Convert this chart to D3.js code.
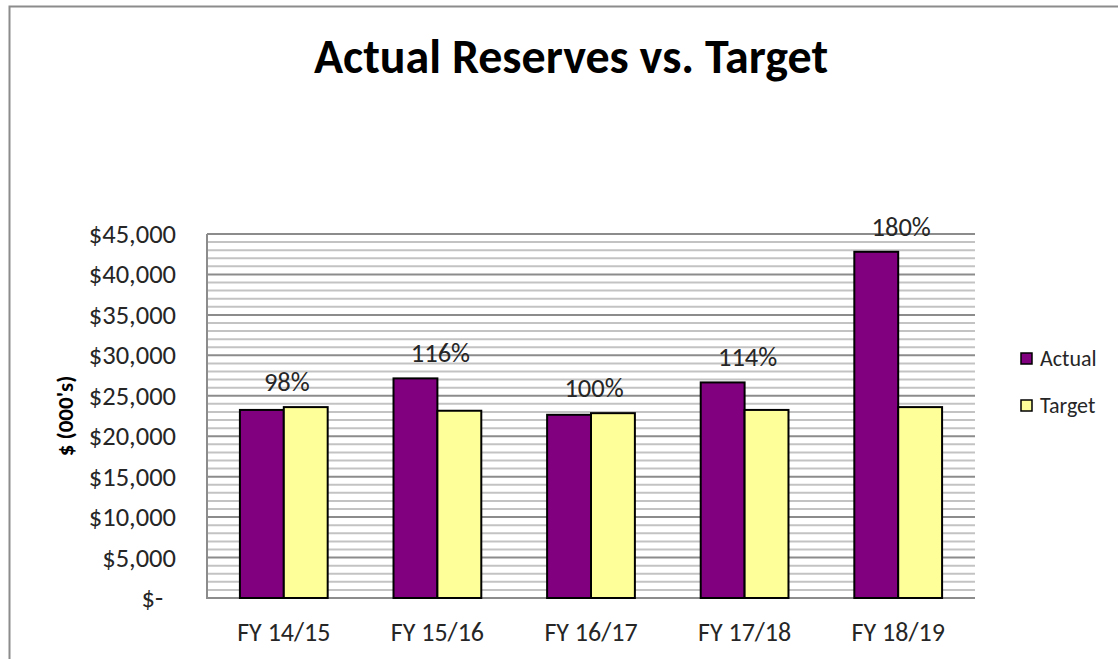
<!DOCTYPE html>
<html lang="en">
<head>
    <meta charset="UTF-8">
    <script src="https://d3js.org/d3.v7.min.js"></script>
    <title>Actual Reserves vs. Target</title>
    <style>
        body { margin: 0; background: #fff; }
        text { font-family: Carlito, Calibri, Lato, "Open Sans", sans-serif; fill: #262626; }
    </style>
</head>
<body>
<div id="chart"></div>
<script>
    // values in $ (000's)
    const years = ["FY 14/15", "FY 15/16", "FY 16/17", "FY 17/18", "FY 18/19"]
    const actual = [23250, 27150, 22650, 26650, 42800]
    const target = [23600, 23150, 22850, 23250, 23600]
    const pctLabels = ["98%", "116%", "100%", "114%", "180%"]
    const seriesNames = ["Actual", "Target"]
    const seriesColors = ["#800080", "#FFFF99"]
    const yTicks = [0, 5000, 10000, 15000, 20000, 25000, 30000, 35000, 40000, 45000]

    const W = 1118, H = 659
    const plotLeft = 207, plotRight = 975, plotTop = 234, plotBottom = 598

    const svg = d3.select("#chart").append("svg")
        .attr("width", W)
        .attr("height", H)

    // outer chart border (only top/left visible in the crop)
    svg.append("rect")
        .attr("x", 9.5).attr("y", 6.5)
        .attr("width", W + 20).attr("height", H + 20)
        .attr("fill", "none")
        .attr("stroke", "#8c8c8c")
        .attr("stroke-width", 2)

    svg.append("text")
        .attr("x", 571)
        .attr("y", 73)
        .attr("text-anchor", "middle")
        .attr("font-size", 48)
        .attr("font-weight", "bold")
        .style("fill", "#000")
        .text("Actual Reserves vs. Target")

    let y = d3.scaleLinear().domain([0, 45000]).range([plotBottom, plotTop])
    let x0 = d3.scaleBand().domain(years).range([plotLeft, plotRight])
    let x1 = d3.scaleBand().domain(seriesNames).range([0, x0.bandwidth()])
        .paddingInner(0).paddingOuter(0.75)

    // minor gridlines every 1000
    svg.append("g").selectAll("line")
        .data(d3.range(1000, 45001, 1000).filter(v => v % 5000 !== 0))
        .join("line")
        .attr("x1", plotLeft).attr("x2", plotRight)
        .attr("y1", d => y(d)).attr("y2", d => y(d))
        .attr("stroke", "#c3c3c3")
        .attr("stroke-width", 2)

    // major gridlines
    svg.append("g").selectAll("line")
        .data(yTicks.filter(v => v > 0))
        .join("line")
        .attr("x1", plotLeft).attr("x2", plotRight)
        .attr("y1", d => y(d)).attr("y2", d => y(d))
        .attr("stroke", "#8c8c8c")
        .attr("stroke-width", 2)

    // axes lines
    svg.append("line")
        .attr("x1", plotLeft).attr("x2", plotLeft)
        .attr("y1", plotTop).attr("y2", plotBottom + 1)
        .attr("stroke", "#8c8c8c").attr("stroke-width", 2)
    svg.append("line")
        .attr("x1", plotLeft - 1).attr("x2", plotRight)
        .attr("y1", plotBottom).attr("y2", plotBottom)
        .attr("stroke", "#8c8c8c").attr("stroke-width", 2)

    // y axis labels
    let yAxis = d3.axisLeft(y)
        .tickValues(yTicks)
        .tickSize(0)
        .tickPadding(31)
        .tickFormat(d => d === 0 ? "$-" : "$" + d3.format(",")(d))
    let ya = svg.append("g")
        .attr("transform", `translate(${plotLeft},0)`)
        .call(yAxis)
    ya.select(".domain").remove()
    ya.selectAll("text")
        .attr("font-size", 26.5)
        .attr("font-family", null)
        .attr("dx", d => d === 0 ? -13 : 0)

    // x axis labels
    let xAxis = d3.axisBottom(x0).tickSize(0).tickPadding(25)
    let xa = svg.append("g")
        .attr("transform", `translate(0,${plotBottom})`)
        .call(xAxis)
    xa.select(".domain").remove()
    xa.selectAll("text")
        .attr("font-size", 26)
        .attr("font-family", null)

    svg.append("text")
        .attr("transform", `translate(73,${(plotTop + plotBottom) / 2}) rotate(-90)`)
        .attr("text-anchor", "middle")
        .attr("font-size", 23)
        .attr("font-weight", "bold")
        .style("fill", "#000")
        .text("$ (000's)")

    // bars
    let rows = years.map((yr, i) => ({year: yr, values: [actual[i], target[i]]}))
    let groups = svg.append("g").selectAll("g")
        .data(rows)
        .join("g")
        .attr("transform", d => `translate(${x0(d.year)},0)`)
    groups.selectAll("rect")
        .data(d => d.values.map((v, k) => ({name: seriesNames[k], value: v, color: seriesColors[k]})))
        .join("rect")
        .attr("x", d => x1(d.name))
        .attr("width", x1.bandwidth())
        .attr("y", d => y(d.value))
        .attr("height", d => y(0) - y(d.value))
        .attr("fill", d => d.color)
        .attr("stroke", "#000")
        .attr("stroke-width", 2)

    // percentage labels
    svg.append("g").selectAll("text")
        .data(rows)
        .join("text")
        .attr("x", d => x0(d.year) + x0.bandwidth() / 2 + 3)
        .attr("y", d => y(d3.max(d.values)) - 16)
        .attr("text-anchor", "middle")
        .attr("font-size", 26.5)
        .text((d, i) => pctLabels[i])

    // legend
    let legend = svg.append("g").selectAll("g")
        .data(seriesNames)
        .join("g")
        .attr("transform", (d, i) => `translate(1021,${353 + i * 47})`)
    legend.append("rect")
        .attr("width", 11).attr("height", 11)
        .attr("fill", (d, i) => seriesColors[i])
        .attr("stroke", "#000")
        .attr("stroke-width", 1.5)
    legend.append("text")
        .attr("x", 19)
        .attr("y", 13)
        .attr("font-size", 22)
        .text(d => d)
</script>
</body>
</html>
